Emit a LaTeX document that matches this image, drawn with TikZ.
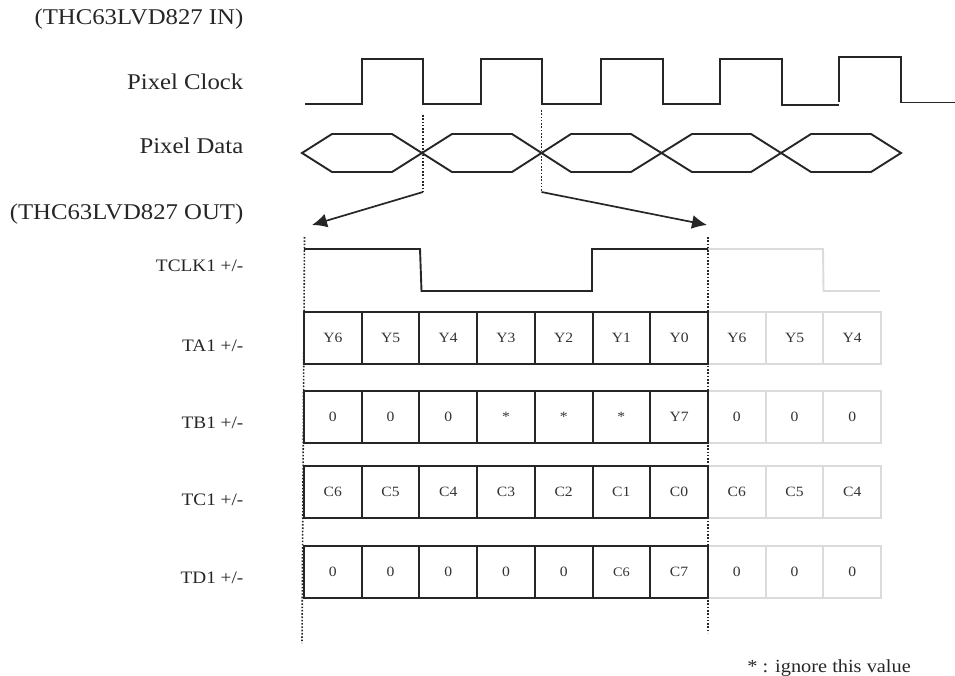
\documentclass[tikz,border=0pt]{standalone}
\usepackage{fontspec}
\setmainfont[FakeStretch=1.1]{Liberation Serif}
\usetikzlibrary{arrows.meta}

\tikzset{
    signal/.style={line width=1.9pt, draw=black!85, line join=miter},
    fadedsignal/.style={line width=1.9pt, draw=black!14},
    guide/.style={line width=1.6pt, draw=black!85, dash pattern=on 1.6pt off 1.7pt},
    pointer/.style={line width=1.7pt, draw=black!85, -{Latex[length=15pt,width=14pt]}},
    cell/.style={minimum width=57.7pt, minimum height=52pt, inner sep=0pt, outer sep=0pt, font=\fontsize{14.2}{16}\selectfont, text=black!80},
    boldcell/.style={cell, draw=black!85, line width=2pt},
    fadedcell/.style={cell, draw=black!14, line width=2pt},
    heading/.style={anchor=base east, inner sep=0pt, font=\fontsize{22.5}{25}\selectfont, text=black!85},
    rowlabel/.style={anchor=base east, inner sep=0pt, font=\fontsize{17.5}{19}\selectfont, text=black!85}
}

\begin{document}
\begin{tikzpicture}[x=1pt,y=-1pt]
    \useasboundingbox (0,0) rectangle (955,676);

    % Input labels
    \node[heading] (inlabel) at (243.5,25) {(THC63LVD827 IN)};
    \node[heading] (clklabel) at (243.5,90) {Pixel Clock};
    \node[heading] (datalabel) at (243.5,154) {Pixel Data};
    \node[heading] (outlabel) at (243.5,220) {(THC63LVD827 OUT)};

    % Draw the pixel clock
    \draw[signal] (305,104) -- (362,104) -- (362,59) -- (423,59) -- (423,104) -- (481,104) -- (481,59) -- (542,59) -- (542,104)
        -- (601,104) -- (601,59) -- (663,59) -- (663,104) -- (720,104) -- (720,59) -- (782,59) -- (782,105) -- (839,105);
    \draw[signal] (839,102) -- (839,57) -- (901,57) -- (901,102.5) -- (955,102.5);

    % Draw the pixel data
    \draw[signal] (302,153) -- (332,134) -- (392,134) -- (452,172) -- (512,172) -- (571,134) -- (631,134) -- (692,172)
        -- (751,172) -- (811,134) -- (871,134) -- (901,153) -- (871,172) -- (811,172) -- (751,134) -- (692,134)
        -- (631,172) -- (571,172) -- (512,134) -- (452,134) -- (392,172) -- (332,172) -- cycle;

    % Guides from the input down to the arrows
    \coordinate (lefttop) at (423,115);
    \coordinate (leftend) at (423,192);
    \coordinate (righttop) at (541.5,110);
    \coordinate (rightend) at (541.5,192);
    \coordinate (lefttip) at (312,225);
    \coordinate (righttip) at (707,225);
    \draw[guide] (lefttop) -- (leftend);
    \draw[guide] (righttop) -- (rightend);
    \draw[pointer] (leftend) -- (lefttip);
    \draw[pointer] (rightend) -- (righttip);

    % Output clock
    \node[rowlabel] (tclk) at (243.5,272) {TCLK1 +/-};
    \draw[fadedsignal] (708,249) -- (823,249) -- (823.5,291) -- (880,291);
    \draw[signal] (304,249) -- (420,249) -- (421.5,291) -- (592,291) -- (592,249) -- (708,249);

    % Output rows
    \foreach \ypos/\labelpos/\vals/\extra/\row in {
        338/351/{Y6,Y5,Y4,Y3,Y2,Y1,Y0}/{Y6,Y5,Y4}/TA1,
        417/428/{0,0,0,*,*,*,Y7}/{0,0,0}/TB1,
        491.5/505/{C6,C5,C4,C3,C2,C1,C0}/{C6,C5,C4}/TC1}{
        \node[rowlabel] (\row label) at (243.5,\labelpos) {\row\ +/-};
        \foreach \val [count=\i from 0] in \extra
            \node[fadedcell] (\row f\i) at (736.85+57.7*\i,\ypos) {\val};
        \foreach \val [count=\i from 0] in \vals
            \node[boldcell] (\row b\i) at (332.85+57.7*\i,\ypos) {\val};
    }

    % Last row, its C6 is set smaller
    \node[rowlabel] (TD1label) at (243.5,583) {TD1 +/-};
    \foreach \val [count=\i from 0] in {0,0,0}
        \node[fadedcell] (TD1f\i) at (736.85+57.7*\i,572) {\val};
    \foreach \val [count=\i from 0] in {0,0,0,0,0,{\fontsize{13}{15}\selectfont C6},C7}
        \node[boldcell] (TD1b\i) at (332.85+57.7*\i,572) {\val};

    % Boundaries of the output word
    \coordinate (wordlefttop) at (304.5,237);
    \coordinate (wordleftend) at (302,643);
    \coordinate (wordrighttop) at (708,237);
    \coordinate (wordrightend) at (708,633);
    \draw[guide] (wordlefttop) -- (wordleftend);
    \draw[guide] (wordrighttop) -- (wordrightend);

    % Note
    \node[rowlabel, font=\fontsize{18.5}{20}\selectfont] (note) at (911,672) {* : ignore this value};
\end{tikzpicture}
\end{document}
